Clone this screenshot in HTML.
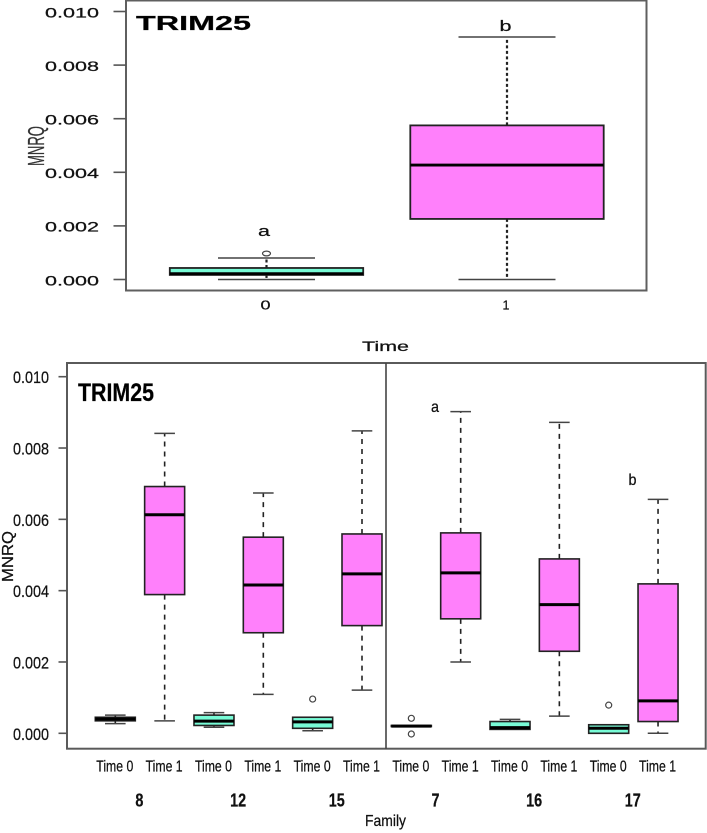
<!DOCTYPE html>
<html lang="en">
<head>
<meta charset="utf-8">
<title>TRIM25 MNRQ boxplots</title>
<style>
html,body{margin:0;padding:0;background:#fff;}
svg{display:block;filter:blur(0.3px);}
text{font-family:"Liberation Sans",sans-serif;fill:#111;stroke:#111;stroke-width:0.25px;}
</style>
</head>
<body>
<svg id="figure" xmlns="http://www.w3.org/2000/svg" width="707" height="833" viewBox="0 0 707 833">
  <rect x="0" y="0" width="707" height="833" fill="#fff"/>

  <g id="top-chart">
    <rect x="126" y="0.5" width="520.5" height="290" fill="none" stroke="#5f5f5f" stroke-width="2"/>
    <text x="136" y="30" font-size="20" font-weight="700" textLength="115" lengthAdjust="spacingAndGlyphs" style="fill:#000">TRIM25</text>
    <text transform="translate(44,166) rotate(-90)" font-size="23" textLength="40" lengthAdjust="spacingAndGlyphs" style="fill:#333;stroke:#333">MNRQ</text>
    <text x="362" y="351" font-size="14" textLength="47" lengthAdjust="spacingAndGlyphs">Time</text>
    <text x="264" y="236" font-size="15" text-anchor="middle" textLength="12" lengthAdjust="spacingAndGlyphs">a</text>
    <text x="505.5" y="31" font-size="15" text-anchor="middle" textLength="12" lengthAdjust="spacingAndGlyphs">b</text>
  </g>

  <g id="bottom-chart">
    <rect x="67" y="363" width="638.7" height="385.7" fill="none" stroke="#5a5a5a" stroke-width="2"/>
    <line x1="386" y1="363" x2="386" y2="748.7" stroke="#444" stroke-width="1.6"/>
    <text x="78" y="401" font-size="25" font-weight="700" textLength="76" lengthAdjust="spacingAndGlyphs" style="fill:#000">TRIM25</text>
    <text transform="translate(13,582) rotate(-90)" font-size="16" textLength="51" lengthAdjust="spacingAndGlyphs">MNRQ</text>
    <text x="365" y="826" font-size="16" textLength="41" lengthAdjust="spacingAndGlyphs">Family</text>
    <text x="435" y="412" font-size="16" text-anchor="middle" textLength="8" lengthAdjust="spacingAndGlyphs">a</text>
    <text x="632.5" y="485" font-size="16" text-anchor="middle" textLength="8" lengthAdjust="spacingAndGlyphs">b</text>
  </g>
</svg>
<script>
// ---------- top chart data ----------
const topCategories = ['0', '1'];
const topLow      = [0.00000, 0.00000];
const topQ1       = [0.00017, 0.00226];
const topMedian   = [0.00022, 0.00427];
const topQ3       = [0.00043, 0.00575];
const topHigh     = [0.00080, 0.00905];
const topOutliers = [[0.00097], []];
const topFills    = ['teal', 'pink'];
const topTicks    = [0, 0.002, 0.004, 0.006, 0.008, 0.010];
const topTickLabels = ['0.000', '0.002', '0.004', '0.006', '0.008', '0.010'];

// ---------- bottom chart data ----------
const bottomCategories = ['Time 0', 'Time 1', 'Time 0', 'Time 1', 'Time 0', 'Time 1', 'Time 0', 'Time 1', 'Time 0', 'Time 1', 'Time 0', 'Time 1'];
const bottomLow    = [0.00027, 0.00035, 0.00017, 0.00109, 0.00007, 0.00121, 0.00019, 0.00200, 0.00011, 0.00048, 0.00000, 0.00000];
const bottomQ1     = [0.00035, 0.00389, 0.00022, 0.00282, 0.00014, 0.00302, 0.00019, 0.00321, 0.00011, 0.00230, 0.00000, 0.00033];
const bottomMedian = [0.00040, 0.00613, 0.00034, 0.00416, 0.00032, 0.00447, 0.00020, 0.00450, 0.00016, 0.00361, 0.00014, 0.00091];
const bottomQ3     = [0.00045, 0.00692, 0.00051, 0.00550, 0.00045, 0.00559, 0.00022, 0.00562, 0.00033, 0.00489, 0.00024, 0.00419];
const bottomHigh   = [0.00051, 0.00841, 0.00058, 0.00674, 0.00045, 0.00848, 0.00022, 0.00902, 0.00039, 0.00872, 0.00024, 0.00656];
const bottomOutliers = [[], [], [], [], [0.00096], [], [0.00042, -0.00002], [], [], [], [0.00079], []];
const bottomFills  = ['teal', 'pink', 'teal', 'pink', 'teal', 'pink', 'teal', 'pink', 'teal', 'pink', 'teal', 'pink'];
const bottomTicks  = [0, 0.002, 0.004, 0.006, 0.008, 0.010];
const bottomTickLabels = ['0.000', '0.002', '0.004', '0.006', '0.008', '0.010'];
const families = ['8', '12', '15', '7', '16', '17'];

const NS = 'http://www.w3.org/2000/svg';
const colours = { teal: '#78fbd6', pink: '#ff80fb' };

// ---------- axis functions ----------
function yTop(v) { return 279.5 - v * 26800; }
function xTop(i) { return 266.5 + i * 240.5; }
function yBottom(v) { return 733.3 - v * 35660; }
function xBottom(i) { return 115.3 + i * 49.34; }
function xFamily(i) { return 139.4 + i * 98.68; }

function make(tag, attrs, parent) {
  const el = document.createElementNS(NS, tag);
  for (const k in attrs) el.setAttribute(k, attrs[k]);
  parent.appendChild(el);
  return el;
}

function drawWhisker(parent, x, y1, y2, width, dash) {
  const el = make('line', { x1: x, y1: y1, x2: x, y2: y2, stroke: '#222', 'stroke-width': width, 'stroke-dasharray': dash }, parent);
  
  
}

function drawCap(parent, x, y, half) {
  const el = make('line', { x1: x - half, y1: y, x2: x + half, y2: y, stroke: '#444', 'stroke-width': 1.5 }, parent);
  
  
}

function drawBody(parent, x, yHi, yLo, half, fill, width) {
  const el = make('rect', { x: x - half, y: yHi, width: half * 2, height: Math.max(yLo - yHi, 0.5), fill: fill, stroke: '#222', 'stroke-width': width }, parent);
  
  
}

function drawMedian(parent, x, y, half, width) {
  const el = make('line', { x1: x - half, y1: y, x2: x + half, y2: y, stroke: '#000', 'stroke-width': width }, parent);
  
  
}

function drawOutlier(parent, x, y, rx, ry) {
  const el = make('ellipse', { cx: x, cy: y, rx: rx, ry: ry, fill: '#fff', stroke: '#444', 'stroke-width': 1.2 }, parent);
  
  
}

function drawTick(parent, x1, x2, y) {
  const el = make('line', { x1: x1, y1: y, x2: x2, y2: y, stroke: '#555', 'stroke-width': 1.6 }, parent);
  
  
}

function drawLabel(parent, name, str, attrs) {
  const el = make('text', attrs, parent);
  el.textContent = str;
  if (name === 'y') {
    
  } else if (name === 'x') {
    
  } else {
    
  }
  
}

// ---------- top chart ----------
const topGroup = document.getElementById('top-chart');
topTicks.forEach(function (t, i) {
  const y = yTop(t);
  drawTick(topGroup, 113.5, 126, y);
  drawLabel(topGroup, 'y', topTickLabels[i], { x: 45, y: y + 5.8, 'font-size': 14, textLength: 54, lengthAdjust: 'spacingAndGlyphs' });
});
topCategories.forEach(function (c, i) {
  const x = xTop(i);
  drawWhisker(topGroup, x, yTop(topQ3[i]), yTop(topHigh[i]), 2.2, '3 2.5');
  drawWhisker(topGroup, x, yTop(topQ1[i]), yTop(topLow[i]), 2.2, '3 2.5');
  drawCap(topGroup, x, yTop(topHigh[i]), 48.5);
  drawCap(topGroup, x, yTop(topLow[i]), 48.5);
  drawBody(topGroup, x, yTop(topQ3[i]), yTop(topQ1[i]), 96.7, colours[topFills[i]], 1.8);
  drawMedian(topGroup, x, yTop(topMedian[i]), 96.7, 2.8);
  topOutliers[i].forEach(function (v) {
    drawOutlier(topGroup, x, yTop(v), 4, 2.4);
  });
  drawLabel(topGroup, 'x', c, { x: x - 1, y: 309.5, 'font-size': 13, 'text-anchor': 'middle', textLength: c === '0' ? 10 : 7, lengthAdjust: 'spacingAndGlyphs' });
});

// ---------- bottom chart ----------
const bottomGroup = document.getElementById('bottom-chart');
bottomTicks.forEach(function (t, i) {
  const y = yBottom(t);
  drawTick(bottomGroup, 58.5, 67, y);
  drawLabel(bottomGroup, 'y', bottomTickLabels[i], { x: 13, y: y + 6.5, 'font-size': 17, textLength: 36, lengthAdjust: 'spacingAndGlyphs' });
});
bottomCategories.forEach(function (c, i) {
  const x = xBottom(i);
  if (bottomHigh[i] > bottomQ3[i]) {
    drawWhisker(bottomGroup, x, yBottom(bottomQ3[i]), yBottom(bottomHigh[i]), 1.6, '5 5');
    drawCap(bottomGroup, x, yBottom(bottomHigh[i]), 10.3);
  }
  if (bottomLow[i] < bottomQ1[i]) {
    drawWhisker(bottomGroup, x, yBottom(bottomQ1[i]), yBottom(bottomLow[i]), 1.6, '5 5');
    drawCap(bottomGroup, x, yBottom(bottomLow[i]), 10.3);
  }
  drawBody(bottomGroup, x, yBottom(bottomQ3[i]), yBottom(bottomQ1[i]), 20, colours[bottomFills[i]], 1.6);
  drawMedian(bottomGroup, x, yBottom(bottomMedian[i]), 20, 3);
  bottomOutliers[i].forEach(function (v) {
    drawOutlier(bottomGroup, x, yBottom(v), 3, 3);
  });
  drawLabel(bottomGroup, 'x', c, { x: x - 0.5, y: 771.7, 'font-size': 16, 'text-anchor': 'middle', textLength: 37, lengthAdjust: 'spacingAndGlyphs' });
});
families.forEach(function (f, i) {
  drawLabel(bottomGroup, 'f', f, { x: xFamily(i), y: 806.7, 'font-size': 18, 'font-weight': 700, 'text-anchor': 'middle', textLength: f.length * 8, lengthAdjust: 'spacingAndGlyphs' });
});
</script>
</body>
</html>
